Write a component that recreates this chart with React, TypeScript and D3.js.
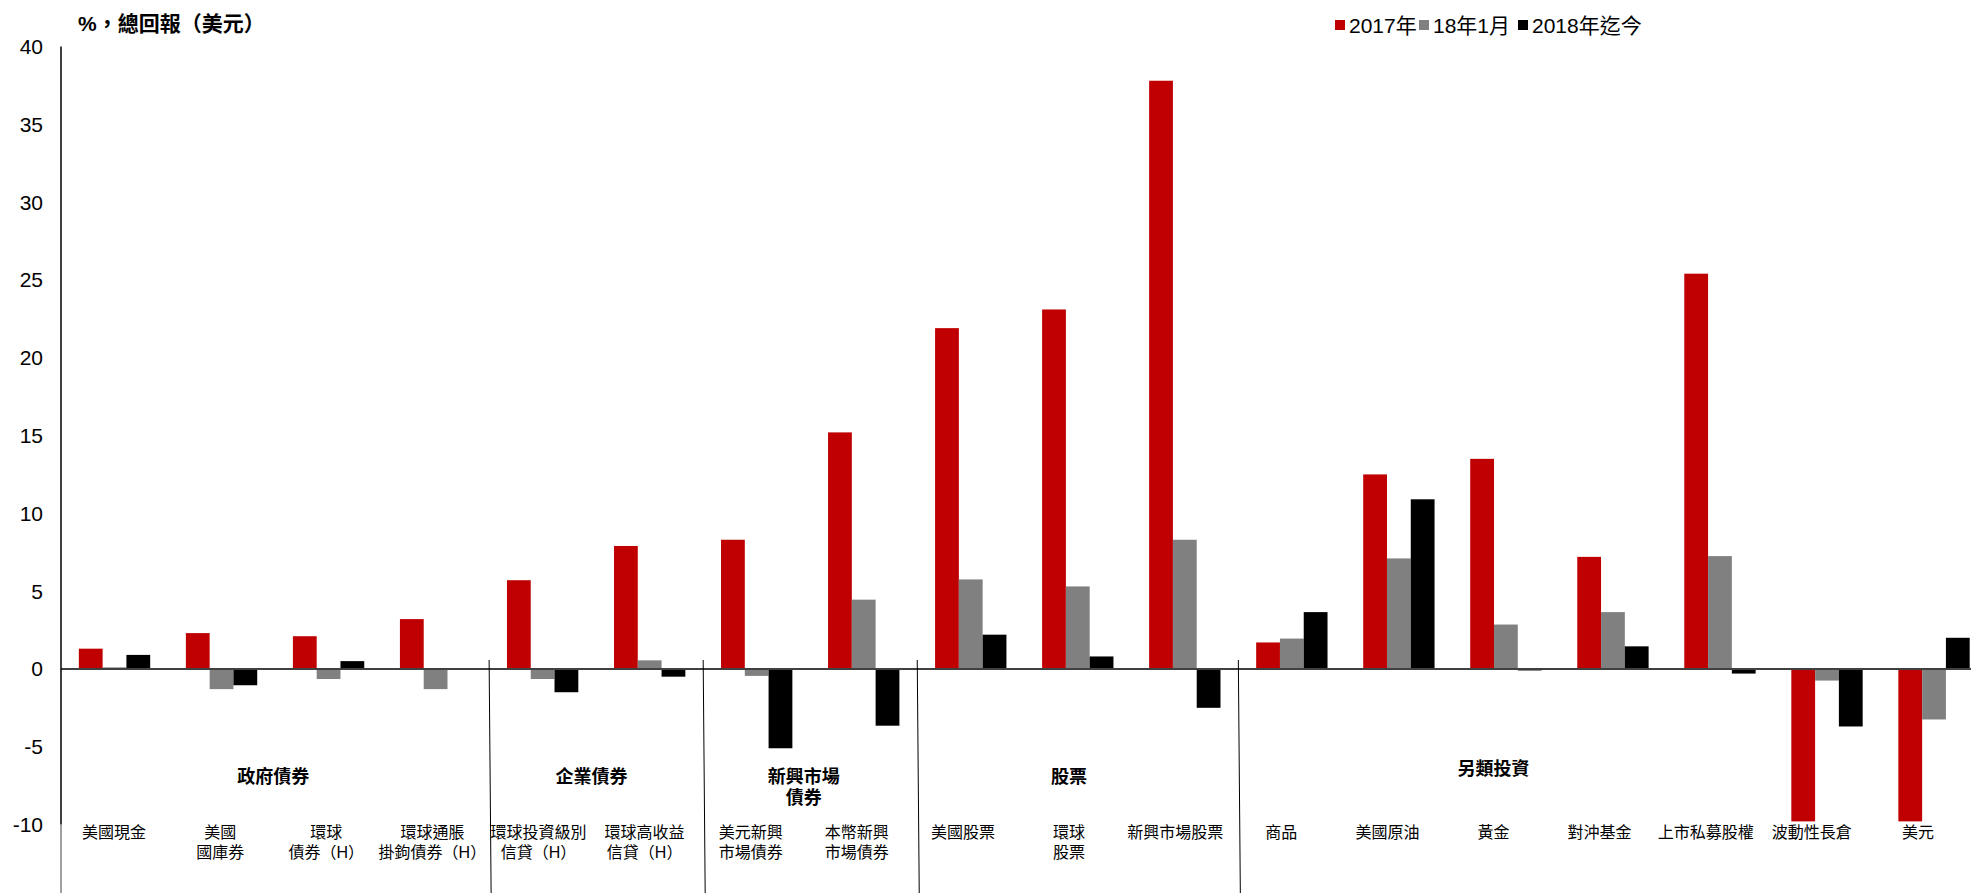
import React from "react";
import * as d3 from "d3";

const categories: string[][] = [
  ["美國現金"],
  ["美國", "國庫券"],
  ["環球", "債券（H）"],
  ["環球通脹", "掛鉤債券（H）"],
  ["環球投資級別", "信貸（H）"],
  ["環球高收益", "信貸（H）"],
  ["美元新興", "市場債券"],
  ["本幣新興", "市場債券"],
  ["美國股票"],
  ["環球", "股票"],
  ["新興市場股票"],
  ["商品"],
  ["美國原油"],
  ["黃金"],
  ["對沖基金"],
  ["上市私募股權"],
  ["波動性長倉"],
  ["美元"],
];

const series2017: number[] = [1.3, 2.3, 2.1, 3.2, 5.7, 7.9, 8.3, 15.2, 21.9, 23.1, 37.8, 1.7, 12.5, 13.5, 7.2, 25.4, -9.8, -9.8];
const seriesJan18: number[] = [0.1, -1.3, -0.65, -1.3, -0.65, 0.55, -0.45, 4.45, 5.75, 5.3, 8.3, 1.95, 7.1, 2.85, 3.65, 7.25, -0.75, -3.25];
const seriesYtd: number[] = [0.9, -1.05, 0.5, 0.05, -1.5, -0.5, -5.1, -3.65, 2.2, 0.8, -2.5, 3.65, 10.9, -0.1, 1.45, -0.3, -3.7, 2.0];

const seriesNames: string[] = ["2017年", "18年1月", "2018年迄今"];
const seriesColors: string[] = ["#C00000", "#808080", "#000000"];

const groupNames: string[][] = [["政府債券"], ["企業債券"], ["新興市場", "債券"], ["股票"], ["另類投資"]];
const groupStarts: number[] = [0, 4, 6, 8, 11];
const groupEnds: number[] = [4, 6, 8, 11, 18];

const yTicks: number[] = [40, 35, 30, 25, 20, 15, 10, 5, 0, -5, -10];

const W = 1971;
const H = 893;
const FONT = "'Liberation Sans', Arial, 'Noto Sans CJK TC', sans-serif";

export default function App() {
  const allSeries = [series2017, seriesJan18, seriesYtd];
  const idx = categories.map((_, i) => String(i));

  const axisX = 61;
  const x = d3.scaleBand<string>().domain(idx).range([axisX, axisX + 18 * 107.03]).paddingInner(1 / 3).paddingOuter(1 / 6);
  const xs = d3.scaleBand<string>().domain(["0", "1", "2"]).range([0, x.bandwidth()]);
  const xl = d3.scaleBand<string>().domain(idx).range([axisX, W]);
  const y = d3.scaleLinear().domain([-10, 40]).range([824.5, 46.5]);

  const step = x.step();
  const boundary = (i: number) => axisX + i * step;
  const labelBoundary = (i: number) => axisX + i * xl.step();

  const groupLabelCenter = (g: number) => {
    if (g === 4) return (xl(String(13)) as number) + xl.bandwidth() / 2;
    return (labelBoundary(groupStarts[g]) + labelBoundary(groupEnds[g])) / 2;
  };

  return (
    <svg width={W} height={H} style={{ position: "absolute", left: 0, top: 0, background: "#fff" }} fontFamily={FONT}>
      <rect x={0} y={0} width={W} height={H} fill="#fff" />
      {/* title */}
      <text x={78} y={23} fontSize={21} fontWeight="bold" dominantBaseline="central">%，總回報（美元）</text>

      {/* legend */}
      {(() => {
        const starts = [1335, 1419, 1518];
        return seriesNames.map((n, i) => (
          <g key={n}>
            <rect x={starts[i]} y={20} width={10} height={10} fill={seriesColors[i]} />
            <text x={starts[i] + 14} y={25.5} fontSize={21} dominantBaseline="central">{n}</text>
          </g>
        ));
      })()}

      {/* y tick labels */}
      {yTicks.map((t) => (
        <text key={t} x={43} y={y(t)} fontSize={21} textAnchor="end" dominantBaseline="central">{t}</text>
      ))}

      {/* bars */}
      {allSeries.map((s, si) =>
        s.map((v, i) => {
          const bx = (x(String(i)) as number) + (xs(String(si)) as number);
          const y0 = y(0);
          const yv = y(v);
          return (
            <rect
              key={`${si}-${i}`}
              x={bx}
              y={Math.min(y0, yv)}
              width={xs.bandwidth()}
              height={Math.max(0.8, Math.abs(yv - y0))}
              fill={seriesColors[si]}
            />
          );
        })
      )}

      {/* zero line */}
      <line x1={axisX} x2={W} y1={y(0)} y2={y(0)} stroke="#404040" strokeWidth={2} />

      {/* y axis */}
      <line x1={axisX} x2={axisX} y1={y(40)} y2={y(-10)} stroke="#000" strokeWidth={1.5} />
      <line x1={axisX} x2={axisX} y1={y(-10)} y2={H} stroke="#404040" strokeWidth={1} />

      {/* group separators */}
      {groupStarts.slice(1).map((b) => (
        <line key={b} x1={boundary(b)} x2={boundary(b) + 2} y1={660} y2={H} stroke="#000" strokeWidth={1} />
      ))}

      {/* group labels */}
      {groupNames.map((lines, g) => (
        <text key={g} x={groupLabelCenter(g)} y={g === 4 ? 769 : 777} fontSize={18} fontWeight="bold" textAnchor="middle" dominantBaseline="central">
          {lines.map((l, li) => (
            <tspan key={li} x={groupLabelCenter(g)} dy={li === 0 ? 0 : 21}>{l}</tspan>
          ))}
        </text>
      ))}

      {/* category labels */}
      {categories.map((lines, i) => {
        const cx = (xl(String(i)) as number) + xl.bandwidth() / 2;
        return (
          <text key={i} x={cx} y={832} fontSize={16} textAnchor="middle" dominantBaseline="central">
            {lines.map((l, li) => (
              <tspan key={li} x={cx} dy={li === 0 ? 0 : 20}>{l}</tspan>
            ))}
          </text>
        );
      })}
    </svg>
  );
}
